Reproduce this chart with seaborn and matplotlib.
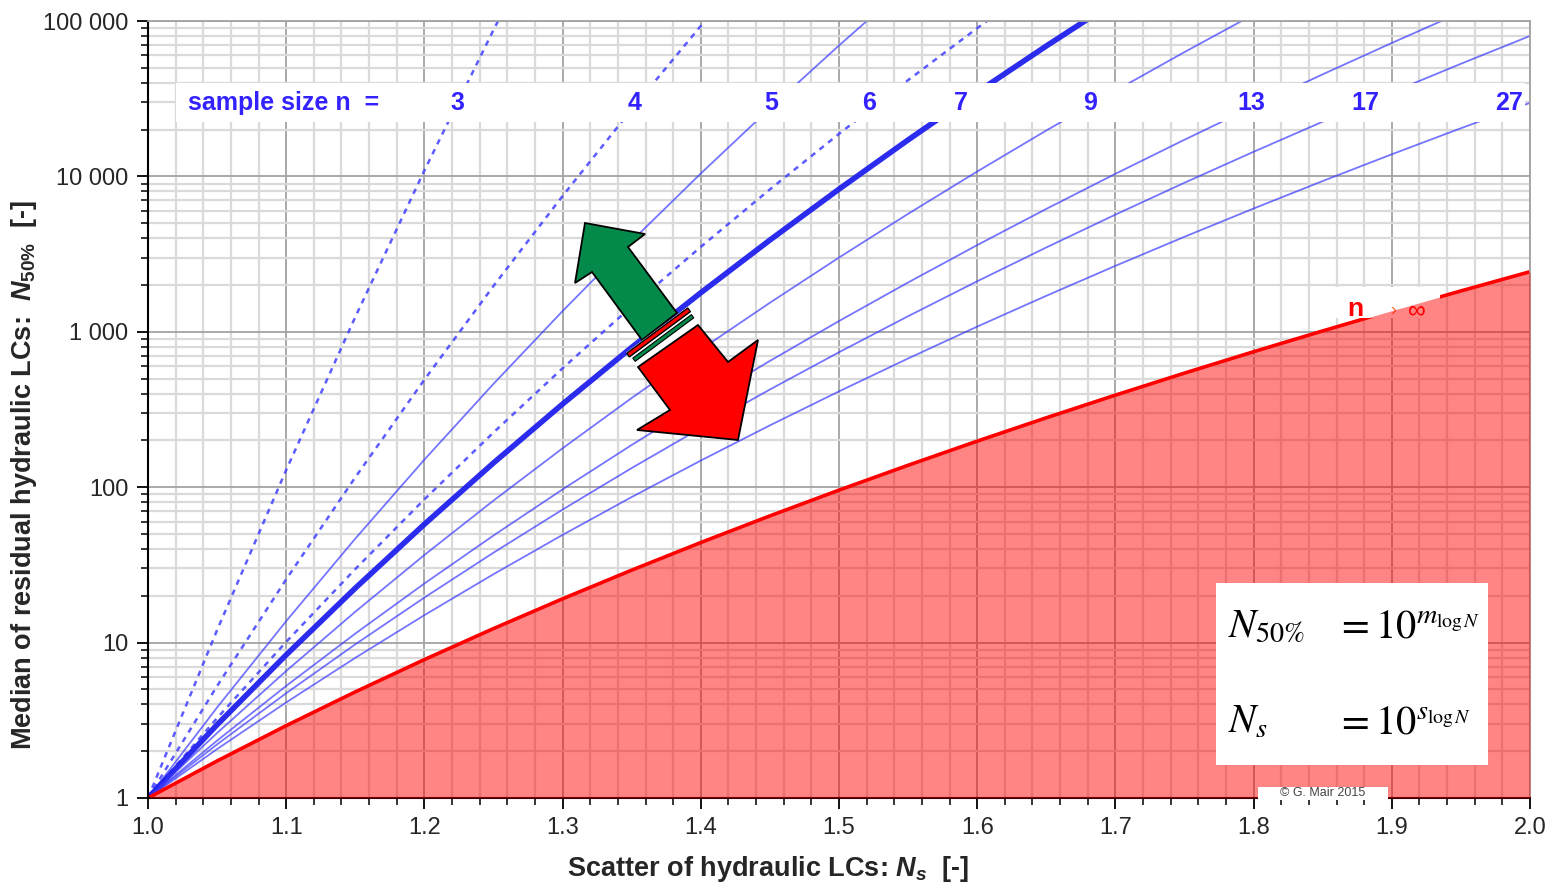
import numpy as np
import pandas as pd
import seaborn as sns
import matplotlib.pyplot as plt
import matplotlib.patches as mpatches
from matplotlib.ticker import MultipleLocator, LogLocator, FuncFormatter, NullFormatter

# -----------------------------
# data
# -----------------------------
# scatter N_s (x), common to all curves
ns = [1.00, 1.05, 1.10, 1.15, 1.20, 1.25, 1.30, 1.35, 1.40, 1.45, 1.50,
      1.55, 1.60, 1.65, 1.70, 1.75, 1.80, 1.85, 1.90, 1.95, 2.00]

# median N50% of each curve at those N_s (curves stop once past the top)
n50_n3 = [1, 12.04, 129.1, 1246, 10920, 87590, 647300]
n50_n4 = [1, 5.253, 25.55, 115.8, 492.2, 1972, 7483, 27000, 92970, 306600]
n50_n5 = [1, 3.826, 13.75, 46.69, 150.5, 462.4, 1360, 3839, 10440, 27390, 69580, 171400]
n50_n6 = [1, 3.268, 10.11, 29.73, 83.51, 224.9, 582.6, 1456, 3520, 8249, 18780, 41630,
          89940, 189800]
n50_n7 = [1, 2.961, 8.337, 22.41, 57.78, 143.3, 342.9, 794.2, 1784, 3894, 8280, 17170,
          34810, 69030, 134100]
n50_n9 = [1, 2.621, 6.569, 15.80, 36.63, 82.03, 178.0, 375.1, 769.1, 1538, 3005, 5742,
          10750, 19740, 35590, 63100, 110100]
n50_n13 = [1, 2.341, 5.266, 11.43, 24.00, 48.88, 96.83, 187.0, 352.4, 649.6, 1173, 2077,
           3613, 6177, 10390, 17220, 28150, 45370, 72220, 113600]
n50_n17 = [1, 2.214, 4.724, 9.745, 19.49, 37.90, 71.80, 132.8, 240.1, 425.3, 738.8, 1260,
           2114, 3490, 5676, 9102, 14400, 22500, 34750, 53050, 80130]
n50_n27 = [1, 2.065, 4.122, 7.980, 15.02, 27.55, 49.34, 86.45, 148.4, 250.0, 413.7, 673.5,
           1080, 1705, 2657, 4088, 6214, 9336, 13880, 20410, 29740]
n50_inf = [1, 1.731, 2.922, 4.818, 7.776, 12.31, 19.14, 29.26, 44.05, 65.37, 95.72, 138.4,
           197.9, 279.7, 391.3, 542.2, 744.4, 1013, 1368, 1832, 2436]

sample_sizes = ["3", "4", "5", "6", "7", "9", "13", "17", "27"]
label_ns = [1.224, 1.352, 1.451, 1.522, 1.588, 1.682, 1.798, 1.881, 1.985]
y_ticks = [1, 10, 100, 1000, 10000, 100000]
x_ticks = [1.0, 1.1, 1.2, 1.3, 1.4, 1.5, 1.6, 1.7, 1.8, 1.9, 2.0]

# (n, N50%, style)
curves = [
    ("3", n50_n3, "dash"),
    ("4", n50_n4, "dash"),
    ("5", n50_n5, "thin"),
    ("6", n50_n6, "dash"),
    ("7", n50_n7, "thick"),
    ("9", n50_n9, "thin"),
    ("13", n50_n13, "thin"),
    ("17", n50_n17, "thin"),
    ("27", n50_n27, "thin"),
]
styles = {
    "dash": dict(color="#4a4aff", lw=1.8, ls=(0, (2.2, 2.2)), alpha=0.9),
    "thin": dict(color="#3a3aff", lw=1.3, ls="-", alpha=0.7),
    "thick": dict(color="#2020ee", lw=4.0, ls="-", alpha=0.95),
}

# -----------------------------
# figure
# -----------------------------
sns.set_style("ticks")
plt.rcParams["font.family"] = ["Liberation Sans", "DejaVu Sans"]
plt.rcParams["mathtext.fontset"] = "custom"
plt.rcParams["mathtext.it"] = "Liberation Sans:italic:bold"
plt.rcParams["mathtext.rm"] = "Liberation Sans:bold"
plt.rcParams["mathtext.bf"] = "Liberation Sans:bold"

W, H = 1552, 886
fig = plt.figure(figsize=(W / 100, H / 100), dpi=100)
ax = fig.add_axes([148 / W, 88 / H, 1382 / W, 777 / H])


def ref_px(px, py):
    # reference pixel -> axes fraction
    return ((px - 148) / 1382, (798 - py) / 777)


for n, ys, st in curves:
    sns.lineplot(x=ns[:len(ys)], y=ys, ax=ax, sort=False, estimator=None, zorder=2, **styles[st])

# n -> infinity
sns.lineplot(x=ns, y=n50_inf, ax=ax, sort=False, estimator=None,
             color="#ff0000", lw=2.6, zorder=2)
ax.fill_between(ns, n50_inf, 1, color="#ff0000", alpha=0.48, lw=0, zorder=4)

ax.set_yscale("log")
ax.set_xlim(1.0, 2.0)
ax.set_ylim(1, 100000)

# ticks & grid
ax.xaxis.set_minor_locator(MultipleLocator(0.02))
ax.set_xticks(x_ticks)
ax.set_xticklabels([f"{v:.1f}" for v in x_ticks])
ax.set_yticks(y_ticks)
ax.yaxis.set_major_formatter(FuncFormatter(lambda v, _: f"{int(round(v)):,}".replace(",", " ")))
ax.yaxis.set_minor_locator(LogLocator(base=10, subs=range(2, 10)))
ax.yaxis.set_minor_formatter(NullFormatter())
ax.tick_params(which="major", direction="out", length=8, width=1.3, labelsize=17, pad=6, color="black")
ax.tick_params(which="minor", direction="out", length=5, width=1.1, color="black")
ax.set_axisbelow(True)
ax.grid(which="minor", color="#dadada", lw=1.6, zorder=0)
ax.grid(which="major", color="#a3a3a3", lw=1.3, zorder=0)
for side in ["left", "bottom"]:
    ax.spines[side].set_color("black")
    ax.spines[side].set_linewidth(1.5)
for side in ["top", "right"]:
    ax.spines[side].set_color("#a3a3a3")
    ax.spines[side].set_linewidth(1.3)

ax.set_xlabel(r"Scatter of hydraulic LCs: $N_s$  [-]", fontsize=19.5, fontweight="bold")
ax.set_ylabel(r"Median of residual hydraulic LCs:  $N_{\mathit{50\%}}$  [-]", fontsize=19.5,
              fontweight="bold")
ax.xaxis.set_label_coords(0.4486, -0.072)
ax.yaxis.set_label_coords(-0.079, 0.4157)

# -----------------------------
# sample size band
# -----------------------------
bx0, by0 = ref_px(176, 122)
bx1, by1 = ref_px(1525, 83)
ax.add_patch(mpatches.Rectangle((bx0, by0), bx1 - bx0, by1 - by0, transform=ax.transAxes,
                                facecolor="white", edgecolor="none", zorder=5))
blue = "#3322ff"
_, band_y = ref_px(0, 103)
ax.text(ref_px(188, 0)[0], band_y, "sample size n  =", transform=ax.transAxes, color=blue,
        fontsize=18, fontweight="bold", ha="left", va="center", zorder=6)
tr_band = ax.get_xaxis_transform()
for lab, xn in zip(sample_sizes, label_ns):
    ax.text(xn, band_y, lab, transform=tr_band, color=blue, fontsize=18,
            fontweight="bold", ha="center", va="center", zorder=6)

# -----------------------------
# n -> infinity label (partly under the fill)
# -----------------------------
lx0, ly0 = ref_px(1310, 318)
lx1, ly1 = ref_px(1440, 287)
ax.add_patch(mpatches.Rectangle((lx0, ly0), lx1 - lx0, ly1 - ly0, transform=ax.transAxes,
                                facecolor="white", edgecolor="none", zorder=3))
ax.text(*ref_px(1355, 309), "n", transform=ax.transAxes, color="red", fontsize=19,
        fontweight="bold", ha="center", va="center", zorder=3.5)
ax.text(*ref_px(1393, 311), "›", transform=ax.transAxes, color="#ff6a2a", fontsize=13,
        ha="center", va="center", zorder=3.5)
ax.text(*ref_px(1417, 310), "∞", transform=ax.transAxes, color="red", fontsize=18,
        ha="center", va="center", zorder=3.5)

# -----------------------------
# arrows
# -----------------------------
def poly(pts, **kw):
    ax.add_patch(mpatches.Polygon([ref_px(*p) for p in pts], closed=True,
                                  transform=ax.transAxes, **kw))


green_arrow = [(585, 223), (645, 234), (628, 247), (677, 313), (642, 340), (592, 272), (575, 283)]
poly(green_arrow, facecolor="#03894a", edgecolor="black", lw=1.3, zorder=7)

d = np.array([0.596, 0.803])
p = np.array([0.803, -0.596])
A = np.array([626.7, 353.3])


def stripe(t0, t1, s0, s1, **kw):
    pts = [A + s0 * p + t0 * d, A + s1 * p + t0 * d, A + s1 * p + t1 * d, A + s0 * p + t1 * d]
    poly([tuple(q) for q in pts], **kw)


stripe(-1, 19, 0, 76, facecolor="white", edgecolor="none", zorder=7.1)
stripe(0, 4.5, 0, 76, facecolor="#ff0000", edgecolor="black", lw=1.0, zorder=7.2)
stripe(7.5, 11.5, 2, 75, facecolor="#03894a", edgecolor="black", lw=0.8, zorder=7.2)

red_arrow = [(638, 367), (698, 325), (728, 362), (758, 340), (738, 440), (637, 430), (670, 410)]
poly(red_arrow, facecolor="#ff0000", edgecolor="black", lw=1.3, zorder=7.3)

# -----------------------------
# formula box
# -----------------------------
fx0, fy0 = ref_px(1216, 765)
fx1, fy1 = ref_px(1488, 583)
ax.add_patch(mpatches.Rectangle((fx0, fy0), fx1 - fx0, fy1 - fy0, transform=ax.transAxes,
                                facecolor="white", edgecolor="none", zorder=8))
fkw = dict(transform=ax.transAxes, fontsize=29, math_fontfamily="stix", color="black",
           ha="left", va="baseline", zorder=9)
ax.text(*ref_px(1228, 637), r"$N_{50\%}$", **fkw)
ax.text(*ref_px(1336, 637), r"$=10^{m_{\log N}}$", **fkw)
ax.text(*ref_px(1228, 733), r"$N_{s}$", **fkw)
ax.text(*ref_px(1336, 733), r"$=10^{s_{\log N}}$", **fkw)

# copyright tag over the bottom axis line
cx0, cy0 = ref_px(1258, 800)
cx1, cy1 = ref_px(1388, 787)
ax.add_patch(mpatches.Rectangle((cx0, cy0), cx1 - cx0, cy1 - cy0, transform=ax.transAxes,
                                facecolor="white", edgecolor="none", zorder=10, clip_on=False))
ax.text(*ref_px(1323, 793.5), "© G. Mair 2015", transform=ax.transAxes, fontsize=9,
        color="#444444", ha="center", va="center", zorder=11, clip_on=False)

fig.savefig("out.png", dpi=100)
